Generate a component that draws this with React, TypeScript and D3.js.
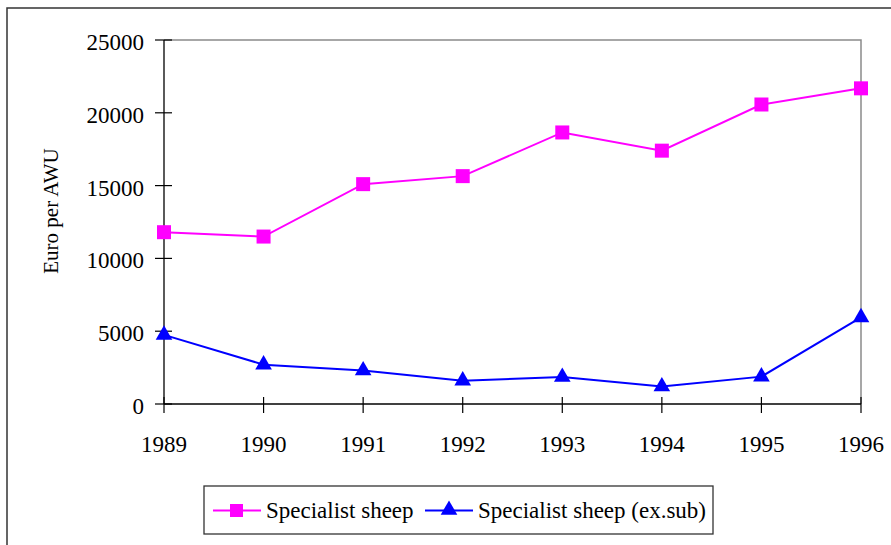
import React from "react";
import * as d3 from "d3";

const years = [1989, 1990, 1991, 1992, 1993, 1994, 1995, 1996];
const sheep = [11800, 11500, 15100, 15650, 18650, 17400, 20570, 21680];
const sheepExSub = [4750, 2700, 2300, 1600, 1850, 1200, 1880, 5950];
const yTicks = [0, 5000, 10000, 15000, 20000, 25000];

const WIDTH = 891;
const HEIGHT = 545;
const FONT = "'Liberation Serif', 'Times New Roman', serif";

const App = () => {
  const x = d3.scaleLinear().domain([1989, 1996]).range([164, 861]);
  const y = d3.scaleLinear().domain([0, 25000]).range([404, 40]);

  const line = d3
    .line<number>()
    .x((_, i) => x(years[i]))
    .y((d) => y(d));

  const tri = d3.symbol().type(d3.symbolTriangle).size(120)();

  return (
    <svg
      width={WIDTH}
      height={HEIGHT}
      style={{ position: "absolute", left: 0, top: 0, background: "#fff", fontFamily: FONT }}
    >
      {/* outer frame */}
      <rect x={7} y={8} width={WIDTH + 10} height={HEIGHT + 10} fill="none" stroke="#333" strokeWidth={1.5} />

      {/* plot border top/right */}
      <path d={`M164,40H861V404`} fill="none" stroke="#8a8a8a" strokeWidth={1.5} />

      {/* y axis */}
      <line x1={164} x2={164} y1={40} y2={404} stroke="#000" strokeWidth={1.3} />
      {yTicks.map((t) => (
        <g key={t}>
          <line x1={155} x2={172} y1={y(t)} y2={y(t)} stroke="#000" strokeWidth={1.2} />
          <text x={144} y={y(t) + 10} textAnchor="end" fontSize={23}>
            {t}
          </text>
        </g>
      ))}

      {/* x axis */}
      <line x1={164} x2={861} y1={404} y2={404} stroke="#000" strokeWidth={1.3} />
      {years.map((yr) => (
        <g key={yr}>
          <line x1={x(yr)} x2={x(yr)} y1={397} y2={413} stroke="#000" strokeWidth={1.2} />
          <text x={x(yr)} y={452} textAnchor="middle" fontSize={23}>
            {yr}
          </text>
        </g>
      ))}

      <text transform="translate(58,211) rotate(-90)" textAnchor="middle" fontSize={21}>
        Euro per AWU
      </text>

      {/* series */}
      <path d={line(sheep) || ""} fill="none" stroke="#ff00ff" strokeWidth={2} />
      {sheep.map((v, i) => (
        <rect key={i} x={x(years[i]) - 7} y={y(v) - 7} width={14} height={14} fill="#ff00ff" />
      ))}

      <path d={line(sheepExSub) || ""} fill="none" stroke="#0000ff" strokeWidth={2} />
      {sheepExSub.map((v, i) => (
        <path key={i} d={tri || ""} transform={`translate(${x(years[i])},${y(v)})`} fill="#0000ff" />
      ))}

      {/* legend */}
      <rect x={204} y={486} width={509} height={48} fill="#fff" stroke="#333" strokeWidth={1.3} />
      <line x1={213} x2={261} y1={510.5} y2={510.5} stroke="#ff00ff" strokeWidth={2} />
      <rect x={230} y={504} width={13} height={13} fill="#ff00ff" />
      <text x={266} y={518} fontSize={23}>
        Specialist sheep
      </text>
      <line x1={425} x2={473} y1={510.5} y2={510.5} stroke="#0000ff" strokeWidth={2} />
      <path d={tri || ""} transform="translate(449,510)" fill="#0000ff" />
      <text x={478} y={518} fontSize={23}>
        Specialist sheep (ex.sub)
      </text>
    </svg>
  );
};

export default App;
